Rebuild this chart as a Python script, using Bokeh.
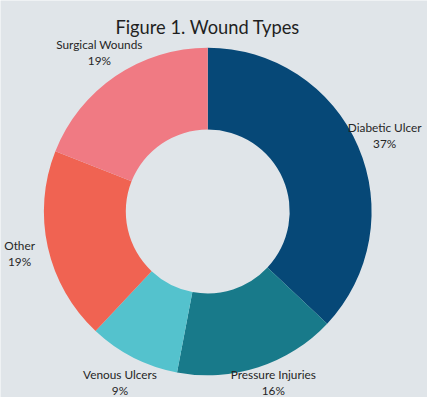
import numpy as np
from bokeh.plotting import figure
from bokeh.models import ColumnDataSource, Range1d, Label
from bokeh.core.properties import value
from bokeh.embed import file_html
from bokeh.resources import INLINE

# ---- data ----
categories = ["Diabetic Ulcer", "Pressure Injuries", "Venous Ulcers", "Other", "Surgical Wounds"]
percents = [37, 16, 9, 19, 19]
colors = ["#064877", "#187A8A", "#54C2CD", "#F06352", "#F07A83"]
title_text = "Figure 1. Wound Types"

# ---- layout (design units = reference pixels, 443 x 413) ----
BG = "#E0E5E9"
W, H = 427, 397
REF_W, REF_H = 443, 413
S = W / REF_W
CX, CY = 215, 219.5          # donut centre (design units)
R_OUT, R_IN, R_LAB = 170, 85, 200
LAB_PX = 12.2                # label font size in design units
LINE_H = 1.05
TITLE_PX = 19

vals = np.array(percents, dtype=float)
frac = vals / vals.sum()
cum_end = np.cumsum(frac)
cum_start = cum_end - frac
start = np.pi / 2 - 2 * np.pi * cum_end
end = np.pi / 2 - 2 * np.pi * cum_start
mid = (start + end) / 2
labels = [f"{c}\n{int(round(p))}%" for c, p in zip(categories, frac * 100)]

# label positions: outside the ring, kept inside the frame
x_lo, x_hi = -CX, REF_W - CX
y_lo, y_hi = CY - REF_H, CY
half_w = np.array([0.5 * 0.45 * LAB_PX * len(c) for c in categories])
half_h = LINE_H * LAB_PX
lx = R_LAB * np.cos(mid)
ly = R_LAB * np.sin(mid)
lx = np.clip(lx, x_lo + half_w + 2, x_hi - half_w - 2)
ly_c = np.clip(ly, y_lo + half_h + 3, y_hi - half_h - 3)
# when pushed inward vertically, slide a little sideways away from the ring
lx = lx + np.sign(lx) * 0.5 * np.abs(ly - ly_c)
ly = ly_c

src = ColumnDataSource(dict(
    cat=categories, start=start, end=end, color=colors,
    lx=lx, ly=ly, label=labels,
))

p = figure(
    width=W, height=H,
    x_range=Range1d(x_lo, x_hi),
    y_range=Range1d(y_lo, y_hi),
    output_backend="svg", toolbar_location=None,
    x_axis_type=None, y_axis_type=None,
    min_border=0, background_fill_color=BG, border_fill_color=BG,
    outline_line_color=None,
)
p.grid.visible = False

p.annular_wedge(
    x=0, y=0, inner_radius=R_IN, outer_radius=R_OUT,
    start_angle="start", end_angle="end", color="color",
    line_color=None, source=src,
)

p.text(
    x="lx", y="ly", text="label", source=src,
    text_align="center", text_baseline="middle",
    text_font=value("Lato"), text_font_size=f"{LAB_PX * S:.1f}px",
    text_color="#262626", text_line_height=LINE_H,
)

p.add_layout(Label(
    x=0, y=R_OUT + 22, text=title_text,
    text_align="center", text_baseline="alphabetic",
    text_font="Lato", text_font_size=f"{TITLE_PX * S:.1f}px", text_color="#1F1F1F",
))

open("out.html", "w").write(file_html(p, INLINE))
